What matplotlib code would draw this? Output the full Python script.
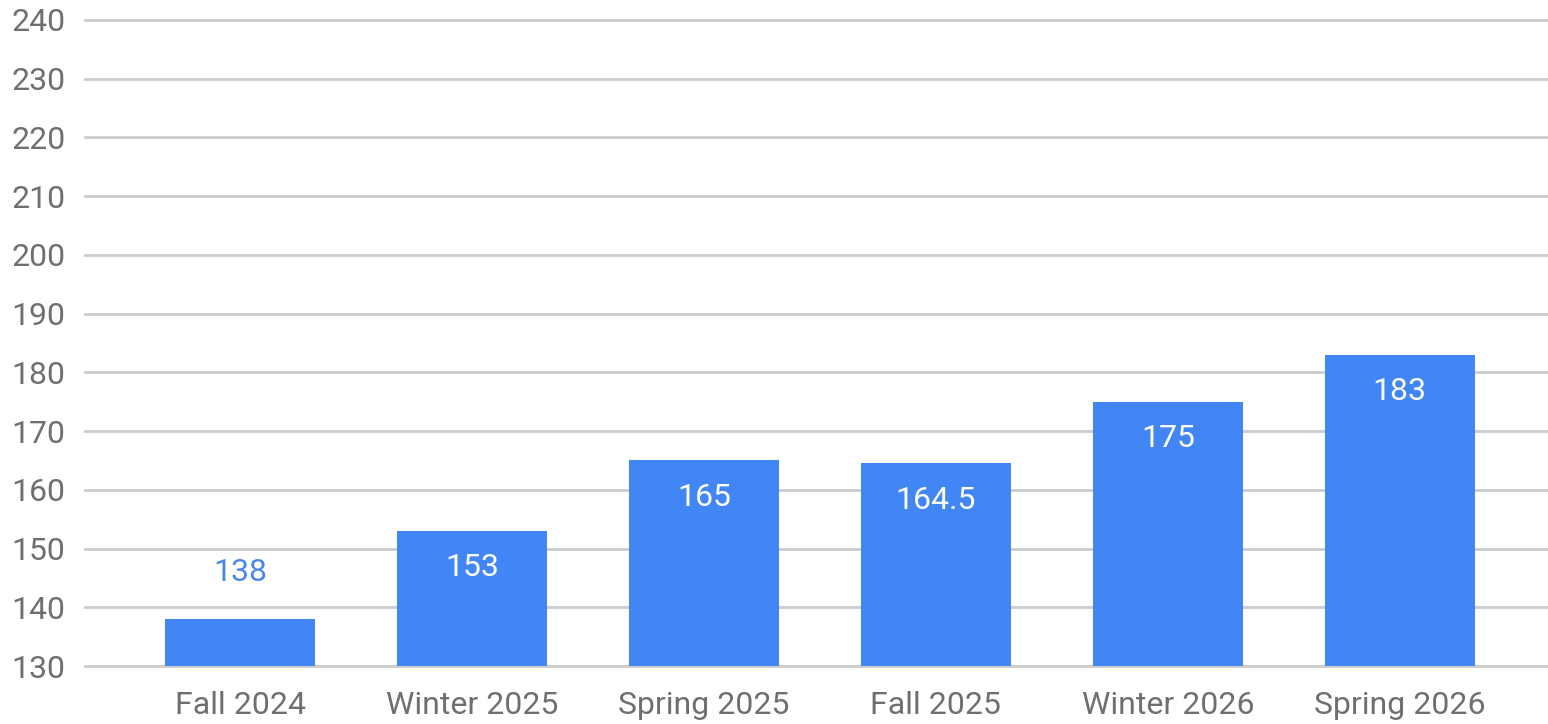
import matplotlib.pyplot as plt

# data
terms = ['Fall 2024', 'Winter 2025', 'Spring 2025', 'Fall 2025', 'Winter 2026', 'Spring 2026']
values = [138, 153, 165, 164.5, 175, 183]
value_labels = ['138', '153', '165', '164.5', '175', '183']
y_ticks = [130, 140, 150, 160, 170, 180, 190, 200, 210, 220, 230, 240]

plt.rcParams['font.family'] = ['Roboto', 'DejaVu Sans']

fig = plt.figure(figsize=(15.48, 7.24), dpi=100)
ax = fig.add_axes([0.0549, 0.0801, 0.9451, 0.8923])

blue = '#4285F4'
x = range(len(terms))
bars = ax.bar(x, values, width=0.647, color=blue, zorder=3)

ax.set_ylim(130, 240)
ax.set_xlim(-0.67, 5.64)
ax.set_yticks(y_ticks)
ax.set_xticks(list(x))
ax.set_xticklabels(terms)

ax.grid(axis='y', color='#cccccc', linewidth=2, zorder=0)
for gl in ax.yaxis.get_gridlines():
    gl.set_clip_on(False)
ax.set_axisbelow(True)
for s in ax.spines.values():
    s.set_visible(False)
ax.tick_params(axis='both', length=0, labelsize=23, colors='#6f6f6f')
ax.tick_params(axis='y', pad=14)
ax.tick_params(axis='x', pad=18)

# labels: inside the bar near the top, or above when bar is too short
for b, v, lab in zip(bars, values, value_labels):
    cx = b.get_x() + b.get_width() / 2
    if v - 130 < 12:
        ax.annotate(lab, (cx, v), xytext=(0, 23), textcoords='offset points',
                    ha='center', va='bottom', fontsize=23, color='#4a86e8')
    else:
        ax.annotate(lab, (cx, v), xytext=(0, -16), textcoords='offset points',
                    ha='center', va='top', fontsize=23, color='white')

fig.savefig('out.png', dpi=100, facecolor='white')
